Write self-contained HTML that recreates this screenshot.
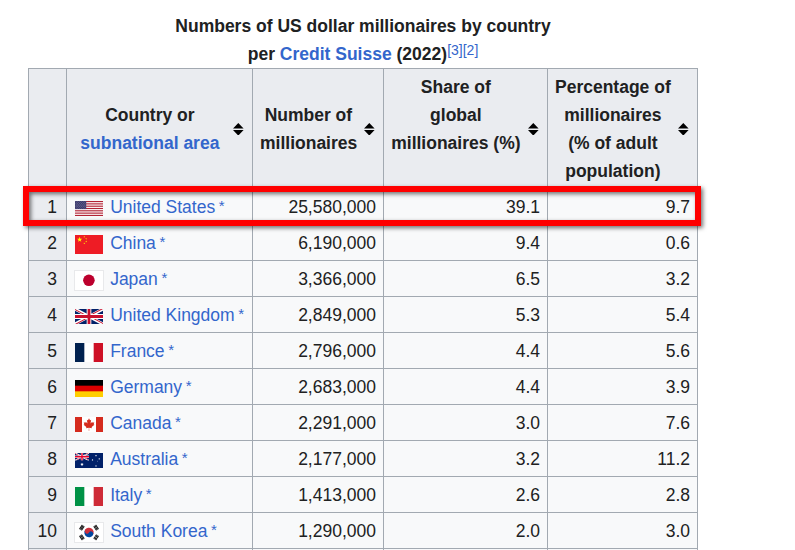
<!DOCTYPE html>
<html><head><meta charset="utf-8">
<style>
html,body{margin:0;padding:0;background:#fff;}
body{width:795px;height:550px;overflow:hidden;position:relative;font-family:"Liberation Sans",sans-serif;font-size:17.5px;line-height:28px;color:#202122;}
a{color:#3366cc;text-decoration:none;}
table{position:absolute;left:28px;top:12px;border-collapse:collapse;table-layout:fixed;width:670px;background:#f8f9fa;}
caption{font-weight:bold;text-align:center;height:56px;padding:0;background:#fff;white-space:nowrap;}
caption sup{font-size:14px;line-height:1;vertical-align:super;font-weight:normal;position:relative;top:1.5px;}
th,td{border:1px solid #a2a9b1;padding:3.5px 7px;height:28px;box-sizing:content-box;}
thead th{background:#eaecf0;font-weight:bold;text-align:center;padding-right:26.25px;height:112px;vertical-align:middle;position:relative;}
thead th.n{padding-right:7px;}
td.n{background:#eaecf0;text-align:right;padding-right:9px;padding-left:5px;}
td.r{text-align:right;}
td.c{text-align:left;white-space:nowrap;}
.sort{position:absolute;right:8.2px;top:50%;margin-top:-5.9px;width:10.6px;height:12.6px;}
.fl{display:inline-block;width:31.25px;height:1px;}
td.c{position:relative;}
a.s{margin-left:-1.3px;font-size:15px;line-height:1;position:relative;top:-1.7px;}
svg.f{display:block;position:absolute;left:8px;}
#red{position:absolute;left:23px;top:186px;width:666px;height:28px;border:6px solid #ff0000;filter:drop-shadow(2px 2px 2px rgba(0,0,0,.55));}
</style></head><body>
<table>
<caption>Numbers of US dollar millionaires by country<br>per <a>Credit Suisse</a> (2022)<sup><a>[3]</a><a>[2]</a></sup></caption>
<colgroup><col style="width:38px"><col style="width:186px"><col style="width:131px"><col style="width:164px"><col style="width:150px"></colgroup>
<thead><tr>
<th class="n"></th>
<th>Country or<br><a>subnational area</a><svg class="sort" viewBox="0 0 8 9" preserveAspectRatio="none"><path d="M8 5l-4 4-4-4zM8 4l-4-4-4 4z" fill="#000"/></svg></th>
<th>Number of<br>millionaires<svg class="sort" viewBox="0 0 8 9" preserveAspectRatio="none"><path d="M8 5l-4 4-4-4zM8 4l-4-4-4 4z" fill="#000"/></svg></th>
<th>Share of<br>global<br>millionaires (%)<br>&nbsp;<svg class="sort" viewBox="0 0 8 9" preserveAspectRatio="none"><path d="M8 5l-4 4-4-4zM8 4l-4-4-4 4z" fill="#000"/></svg></th>
<th>Percentage of<br>millionaires<br>(% of adult<br>population)<svg class="sort" viewBox="0 0 8 9" preserveAspectRatio="none"><path d="M8 5l-4 4-4-4zM8 4l-4-4-4 4z" fill="#000"/></svg></th>
</tr></thead>
<tbody>
<tr><td class="n">1</td><td class="c"><span class="fl"><svg class="f" style="top:12px" width="28" height="15" viewBox="0 0 28 15"><rect width="28" height="15" fill="#fff"/><rect y="0.000" width="28" height="1.154" fill="#b22234"/><rect y="2.308" width="28" height="1.154" fill="#b22234"/><rect y="4.615" width="28" height="1.154" fill="#b22234"/><rect y="6.923" width="28" height="1.154" fill="#b22234"/><rect y="9.231" width="28" height="1.154" fill="#b22234"/><rect y="11.538" width="28" height="1.154" fill="#b22234"/><rect y="13.846" width="28" height="1.154" fill="#b22234"/><rect width="11.2" height="8.08" fill="#3c3b6e"/><circle cx="0.95" cy="0.80" r="0.3" fill="#fff" fill-opacity="0.55"/><circle cx="2.78" cy="0.80" r="0.3" fill="#fff" fill-opacity="0.55"/><circle cx="4.61" cy="0.80" r="0.3" fill="#fff" fill-opacity="0.55"/><circle cx="6.44" cy="0.80" r="0.3" fill="#fff" fill-opacity="0.55"/><circle cx="8.27" cy="0.80" r="0.3" fill="#fff" fill-opacity="0.55"/><circle cx="10.10" cy="0.80" r="0.3" fill="#fff" fill-opacity="0.55"/><circle cx="1.86" cy="1.61" r="0.3" fill="#fff" fill-opacity="0.55"/><circle cx="3.69" cy="1.61" r="0.3" fill="#fff" fill-opacity="0.55"/><circle cx="5.52" cy="1.61" r="0.3" fill="#fff" fill-opacity="0.55"/><circle cx="7.35" cy="1.61" r="0.3" fill="#fff" fill-opacity="0.55"/><circle cx="9.18" cy="1.61" r="0.3" fill="#fff" fill-opacity="0.55"/><circle cx="0.95" cy="2.42" r="0.3" fill="#fff" fill-opacity="0.55"/><circle cx="2.78" cy="2.42" r="0.3" fill="#fff" fill-opacity="0.55"/><circle cx="4.61" cy="2.42" r="0.3" fill="#fff" fill-opacity="0.55"/><circle cx="6.44" cy="2.42" r="0.3" fill="#fff" fill-opacity="0.55"/><circle cx="8.27" cy="2.42" r="0.3" fill="#fff" fill-opacity="0.55"/><circle cx="10.10" cy="2.42" r="0.3" fill="#fff" fill-opacity="0.55"/><circle cx="1.86" cy="3.23" r="0.3" fill="#fff" fill-opacity="0.55"/><circle cx="3.69" cy="3.23" r="0.3" fill="#fff" fill-opacity="0.55"/><circle cx="5.52" cy="3.23" r="0.3" fill="#fff" fill-opacity="0.55"/><circle cx="7.35" cy="3.23" r="0.3" fill="#fff" fill-opacity="0.55"/><circle cx="9.18" cy="3.23" r="0.3" fill="#fff" fill-opacity="0.55"/><circle cx="0.95" cy="4.04" r="0.3" fill="#fff" fill-opacity="0.55"/><circle cx="2.78" cy="4.04" r="0.3" fill="#fff" fill-opacity="0.55"/><circle cx="4.61" cy="4.04" r="0.3" fill="#fff" fill-opacity="0.55"/><circle cx="6.44" cy="4.04" r="0.3" fill="#fff" fill-opacity="0.55"/><circle cx="8.27" cy="4.04" r="0.3" fill="#fff" fill-opacity="0.55"/><circle cx="10.10" cy="4.04" r="0.3" fill="#fff" fill-opacity="0.55"/><circle cx="1.86" cy="4.85" r="0.3" fill="#fff" fill-opacity="0.55"/><circle cx="3.69" cy="4.85" r="0.3" fill="#fff" fill-opacity="0.55"/><circle cx="5.52" cy="4.85" r="0.3" fill="#fff" fill-opacity="0.55"/><circle cx="7.35" cy="4.85" r="0.3" fill="#fff" fill-opacity="0.55"/><circle cx="9.18" cy="4.85" r="0.3" fill="#fff" fill-opacity="0.55"/><circle cx="0.95" cy="5.66" r="0.3" fill="#fff" fill-opacity="0.55"/><circle cx="2.78" cy="5.66" r="0.3" fill="#fff" fill-opacity="0.55"/><circle cx="4.61" cy="5.66" r="0.3" fill="#fff" fill-opacity="0.55"/><circle cx="6.44" cy="5.66" r="0.3" fill="#fff" fill-opacity="0.55"/><circle cx="8.27" cy="5.66" r="0.3" fill="#fff" fill-opacity="0.55"/><circle cx="10.10" cy="5.66" r="0.3" fill="#fff" fill-opacity="0.55"/><circle cx="1.86" cy="6.47" r="0.3" fill="#fff" fill-opacity="0.55"/><circle cx="3.69" cy="6.47" r="0.3" fill="#fff" fill-opacity="0.55"/><circle cx="5.52" cy="6.47" r="0.3" fill="#fff" fill-opacity="0.55"/><circle cx="7.35" cy="6.47" r="0.3" fill="#fff" fill-opacity="0.55"/><circle cx="9.18" cy="6.47" r="0.3" fill="#fff" fill-opacity="0.55"/><circle cx="0.95" cy="7.28" r="0.3" fill="#fff" fill-opacity="0.55"/><circle cx="2.78" cy="7.28" r="0.3" fill="#fff" fill-opacity="0.55"/><circle cx="4.61" cy="7.28" r="0.3" fill="#fff" fill-opacity="0.55"/><circle cx="6.44" cy="7.28" r="0.3" fill="#fff" fill-opacity="0.55"/><circle cx="8.27" cy="7.28" r="0.3" fill="#fff" fill-opacity="0.55"/><circle cx="10.10" cy="7.28" r="0.3" fill="#fff" fill-opacity="0.55"/></svg></span>&nbsp;<a>United States</a>&nbsp;<a class="s">*</a></td><td class="r">25,580,000</td><td class="r">39.1</td><td class="r">9.7</td></tr>
<tr><td class="n">2</td><td class="c"><span class="fl"><svg class="f" style="top:10px" width="28" height="19" viewBox="0 0 28 19"><rect width="28" height="19" fill="#ee1c25"/><polygon points="4.67,1.77 5.30,3.71 7.33,3.71 5.68,4.90 6.31,6.84 4.67,5.64 3.02,6.84 3.65,4.90 2.00,3.71 4.04,3.71" fill="#ffff00"/><polygon points="9.70,1.01 9.64,1.68 10.26,1.95 9.60,2.10 9.54,2.78 9.19,2.19 8.53,2.35 8.98,1.84 8.63,1.25 9.25,1.52" fill="#ffff00"/><polygon points="11.87,3.08 11.55,3.68 12.02,4.17 11.36,4.05 11.04,4.65 10.94,3.98 10.28,3.86 10.89,3.57 10.79,2.89 11.26,3.38" fill="#ffff00"/><polygon points="11.20,5.60 11.41,6.24 12.09,6.24 11.54,6.64 11.75,7.29 11.20,6.89 10.65,7.29 10.86,6.64 10.31,6.24 10.99,6.24" fill="#ffff00"/><polygon points="9.70,7.54 9.64,8.22 10.26,8.48 9.60,8.63 9.54,9.31 9.19,8.73 8.53,8.88 8.98,8.37 8.63,7.79 9.25,8.05" fill="#ffff00"/></svg></span>&nbsp;<a>China</a>&nbsp;<a class="s">*</a></td><td class="r">6,190,000</td><td class="r">9.4</td><td class="r">0.6</td></tr>
<tr><td class="n">3</td><td class="c"><span class="fl"><svg class="f" style="top:9px;left:7px" width="30" height="21" viewBox="0 0 30 21"><rect x="0.5" y="0.5" width="29" height="20" fill="#fff" stroke="#e8e9eb"/><circle cx="14.9" cy="10.3" r="5.8" fill="#bc002d"/></svg></span>&nbsp;<a>Japan</a>&nbsp;<a class="s">*</a></td><td class="r">3,366,000</td><td class="r">6.5</td><td class="r">3.2</td></tr>
<tr><td class="n">4</td><td class="c"><span class="fl"><svg class="f" style="top:12px" width="28" height="15" viewBox="0 0 60 30" preserveAspectRatio="none"><clipPath id="ukc"><path d="M30,15 h30 v15 z v15 h-30 z h-30 v-15 z v-15 h30 z"/></clipPath><path d="M0,0 v30 h60 v-30 z" fill="#012169"/><path d="M0,0 L60,30 M60,0 L0,30" stroke="#fff" stroke-width="6"/><path d="M0,0 L60,30 M60,0 L0,30" clip-path="url(#ukc)" stroke="#C8102E" stroke-width="4"/><path d="M30,0 v30 M0,15 h60" stroke="#fff" stroke-width="10"/><path d="M30,0 v30 M0,15 h60" stroke="#C8102E" stroke-width="6"/></svg></span>&nbsp;<a>United Kingdom</a>&nbsp;<a class="s">*</a></td><td class="r">2,849,000</td><td class="r">5.3</td><td class="r">5.4</td></tr>
<tr><td class="n">5</td><td class="c"><span class="fl"><svg class="f" style="top:10px" width="28" height="19" viewBox="0 0 28 19"><rect width="28" height="19" fill="#fff"/><rect width="9.33" height="19" fill="#00214f"/><rect x="18.67" width="9.33" height="19" fill="#ce1126"/></svg></span>&nbsp;<a>France</a>&nbsp;<a class="s">*</a></td><td class="r">2,796,000</td><td class="r">4.4</td><td class="r">5.6</td></tr>
<tr><td class="n">6</td><td class="c"><span class="fl"><svg class="f" style="top:11px" width="28" height="17" viewBox="0 0 28 17"><rect width="28" height="17" fill="#ffce00"/><rect width="28" height="11.33" fill="#dd0000"/><rect width="28" height="5.67" fill="#000"/></svg></span>&nbsp;<a>Germany</a>&nbsp;<a class="s">*</a></td><td class="r">2,683,000</td><td class="r">4.4</td><td class="r">3.9</td></tr>
<tr><td class="n">7</td><td class="c"><span class="fl"><svg class="f" style="top:12px" width="28" height="15" viewBox="0 0 9600 4800" preserveAspectRatio="none"><rect width="9600" height="4800" fill="#d52b1e"/><path fill="#fff" d="m2400 0h4800v4800h-4800zm2490 4430-45-863a95 95 0 0 1 111-98l859 151-116-320a65 65 0 0 1 20-73l941-762-212-99a65 65 0 0 1-34-79l186-572-542 115a65 65 0 0 1-73-38l-105-247-423 454a65 65 0 0 1-111-57l204-1052-327 189a65 65 0 0 1-91-27l-332-652-332 652a65 65 0 0 1-91 27l-327-189 204 1052a65 65 0 0 1-111 57l-423-454-105 247a65 65 0 0 1-73 38l-542-115 186 572a65 65 0 0 1-34 79l-212 99 941 762a65 65 0 0 1 20 73l-116 320 859-151a95 95 0 0 1 111 98l-45 863z"/></svg></span>&nbsp;<a>Canada</a>&nbsp;<a class="s">*</a></td><td class="r">2,291,000</td><td class="r">3.0</td><td class="r">7.6</td></tr>
<tr><td class="n">8</td><td class="c"><span class="fl"><svg class="f" style="top:12px" width="28" height="15" viewBox="0 0 28 15"><rect width="28" height="15" fill="#012169"/><svg x="0" y="0" width="14" height="7.5" viewBox="0 0 60 30" preserveAspectRatio="none"><clipPath id="auc"><path d="M30,15 h30 v15 z v15 h-30 z h-30 v-15 z v-15 h30 z"/></clipPath><path d="M0,0 L60,30 M60,0 L0,30" stroke="#fff" stroke-width="6"/><path d="M0,0 L60,30 M60,0 L0,30" clip-path="url(#auc)" stroke="#e4002b" stroke-width="4"/><path d="M30,0 v30 M0,15 h60" stroke="#fff" stroke-width="10"/><path d="M30,0 v30 M0,15 h60" stroke="#e4002b" stroke-width="6"/></svg><polygon points="7.00,9.70 7.33,10.71 8.33,10.34 7.75,11.23 8.66,11.78 7.60,11.88 7.74,12.93 7.00,12.17 6.26,12.93 6.40,11.88 5.34,11.78 6.25,11.23 5.67,10.34 6.67,10.71" fill="#fff"/><polygon points="21.00,1.75 21.19,2.31 21.74,2.11 21.42,2.60 21.93,2.91 21.33,2.97 21.41,3.56 21.00,3.13 20.59,3.56 20.67,2.97 20.07,2.91 20.58,2.60 20.26,2.11 20.81,2.31" fill="#fff"/><polygon points="24.30,4.95 24.49,5.51 25.04,5.31 24.72,5.80 25.23,6.11 24.63,6.17 24.71,6.76 24.30,6.33 23.89,6.76 23.97,6.17 23.37,6.11 23.88,5.80 23.56,5.31 24.11,5.51" fill="#fff"/><polygon points="17.50,6.05 17.69,6.61 18.24,6.41 17.92,6.90 18.43,7.21 17.83,7.27 17.91,7.86 17.50,7.43 17.09,7.86 17.17,7.27 16.57,7.21 17.08,6.90 16.76,6.41 17.31,6.61" fill="#fff"/><polygon points="22.60,7.55 22.75,7.90 23.12,7.93 22.84,8.18 22.92,8.54 22.60,8.35 22.28,8.54 22.36,8.18 22.08,7.93 22.45,7.90" fill="#fff"/><polygon points="21.00,12.05 21.19,12.61 21.74,12.41 21.42,12.90 21.93,13.21 21.33,13.27 21.41,13.86 21.00,13.43 20.59,13.86 20.67,13.27 20.07,13.21 20.58,12.90 20.26,12.41 20.81,12.61" fill="#fff"/></svg></span>&nbsp;<a>Australia</a>&nbsp;<a class="s">*</a></td><td class="r">2,177,000</td><td class="r">3.2</td><td class="r">11.2</td></tr>
<tr><td class="n">9</td><td class="c"><span class="fl"><svg class="f" style="top:10px" width="28" height="19" viewBox="0 0 28 19"><rect width="28" height="19" fill="#fff"/><rect width="9.33" height="19" fill="#009246"/><rect x="18.67" width="9.33" height="19" fill="#ce2b37"/></svg></span>&nbsp;<a>Italy</a>&nbsp;<a class="s">*</a></td><td class="r">1,413,000</td><td class="r">2.6</td><td class="r">2.8</td></tr>
<tr><td class="n">10</td><td class="c"><span class="fl"><svg class="f" style="top:9px;left:7px" width="30" height="21" viewBox="0 0 30 21"><rect x="0.5" y="0.5" width="29" height="20" fill="#fff" stroke="#e8e9eb"/><svg x="1" y="1" width="28" height="19" viewBox="-36 -24 72 48" preserveAspectRatio="none"><g transform="rotate(-56.31)"><g id="krb2"><path id="krb" stroke="#000" stroke-width="0.6" d="M-6,-26H6v2H-6zm0,3H6v2H-6zm0,3H6v2H-6z"/><use href="#krb" y="44"/></g><path stroke="#fff" d="M0,17v10"/><path fill="#cd2e3a" d="M0,-12A12,12 0 0 1 0,12z"/><path fill="#0047a0" d="M0,-12A12,12 0 0 0 0,12A6,6 0 0 0 0,0z"/><circle cy="-6" fill="#cd2e3a" r="6"/></g><g transform="rotate(-123.69)"><use href="#krb2"/><path stroke="#fff" d="M0,-23.5v3M0,17v3.5M0,23v3"/></g></svg></svg></span>&nbsp;<a>South Korea</a>&nbsp;<a class="s">*</a></td><td class="r">1,290,000</td><td class="r">2.0</td><td class="r">3.0</td></tr>
<tr><td class="n">11</td><td class="c"><span class="fl"><svg class="f" style="top:10px" width="28" height="19" viewBox="0 0 28 19"><rect width="28" height="19" fill="#fff"/><rect width="28" height="6.33" fill="#ae1c28"/><rect y="12.67" width="28" height="6.33" fill="#21468b"/></svg></span>&nbsp;<a>Netherlands</a>&nbsp;<a class="s">*</a></td><td class="r">1,175,000</td><td class="r">1.8</td><td class="r">8.6</td></tr>
</tbody></table>
<div id="red"></div>
</body></html>
